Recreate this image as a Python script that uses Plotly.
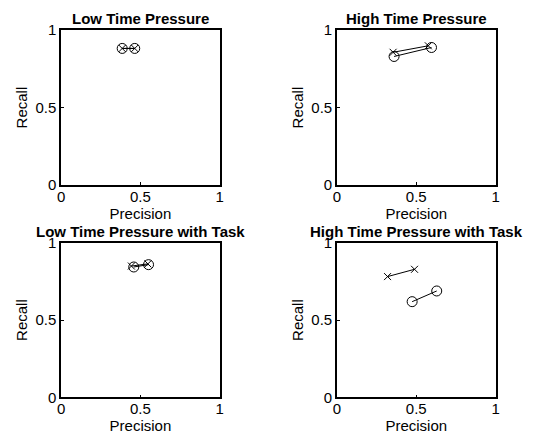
import plotly.graph_objects as go

titles = ["Low Time Pressure", "High Time Pressure",
          "Low Time Pressure with Task", "High Time Pressure with Task"]

# circle series (precision, recall) per panel
circ_prec = [[0.385, 0.464], [0.360, 0.596], [0.458, 0.551], [0.474, 0.629]]
circ_rec = [[0.882, 0.882], [0.830, 0.888], [0.843, 0.858], [0.619, 0.688]]
# cross series
cross_prec = [[0.385, 0.464], [0.354, 0.576], [0.443, 0.547], [0.319, 0.489]]
cross_rec = [[0.882, 0.882], [0.857, 0.899], [0.849, 0.863], [0.781, 0.828]]

tick_vals = [0, 0.5, 1]
tick_text = ["0", "0.5", "1"]

W, H = 537, 443
xdom = [[58 / W, 219 / W], [338 / W, 499 / W]]
ydom = [[1 - 183 / H, 1 - 22 / H], [1 - 404 / H, 1 - 243 / H]]

fig = go.Figure()
font = dict(family="Liberation Sans, Arial, sans-serif", size=15, color="black")

layout = dict(width=W, height=H, margin=dict(l=0, r=0, t=0, b=0),
              paper_bgcolor="white", plot_bgcolor="white", showlegend=False,
              font=font)
annotations = []
for i in range(4):
    r, c = divmod(i, 2)
    n = "" if i == 0 else str(i + 1)
    xa, ya = "x" + n, "y" + n
    fig.add_trace(go.Scatter(x=cross_prec[i], y=cross_rec[i], mode="lines+markers",
                             xaxis=xa, yaxis=ya,
                             line=dict(color="black", width=1),
                             marker=dict(symbol="x-thin-open", size=7,
                                         line=dict(color="black", width=1), color="black")))
    fig.add_trace(go.Scatter(x=circ_prec[i], y=circ_rec[i], mode="lines+markers",
                             xaxis=xa, yaxis=ya,
                             line=dict(color="black", width=1),
                             marker=dict(symbol="circle-open", size=10,
                                         line=dict(color="black", width=1), color="black")))
    axcommon = dict(range=[0, 1], tickvals=tick_vals, ticktext=tick_text,
                    ticks="inside", ticklen=3, tickcolor="black", tickwidth=1,
                    showline=True, linecolor="black", linewidth=1.5, mirror=True,
                    showgrid=False, zeroline=False, tickfont=font, fixedrange=True)
    layout["xaxis" + n] = dict(axcommon, domain=xdom[c], anchor=ya, ticklabelstandoff=-3,
                               title=dict(text="Precision", font=font, standoff=0))
    layout["yaxis" + n] = dict(axcommon, domain=ydom[r], anchor=xa, ticklabelstandoff=0,
                               title=dict(text="Recall", font=font, standoff=4))
    annotations.append(dict(text="<b>" + titles[i] + "</b>", xref="paper", yref="paper",
                            x=(xdom[c][0] + xdom[c][1]) / 2, y=ydom[r][1],
                            xanchor="center", yanchor="bottom", showarrow=False,
                            font=font, yshift=1))
layout["annotations"] = annotations
fig.update_layout(**layout)
fig.write_html("out.html")
